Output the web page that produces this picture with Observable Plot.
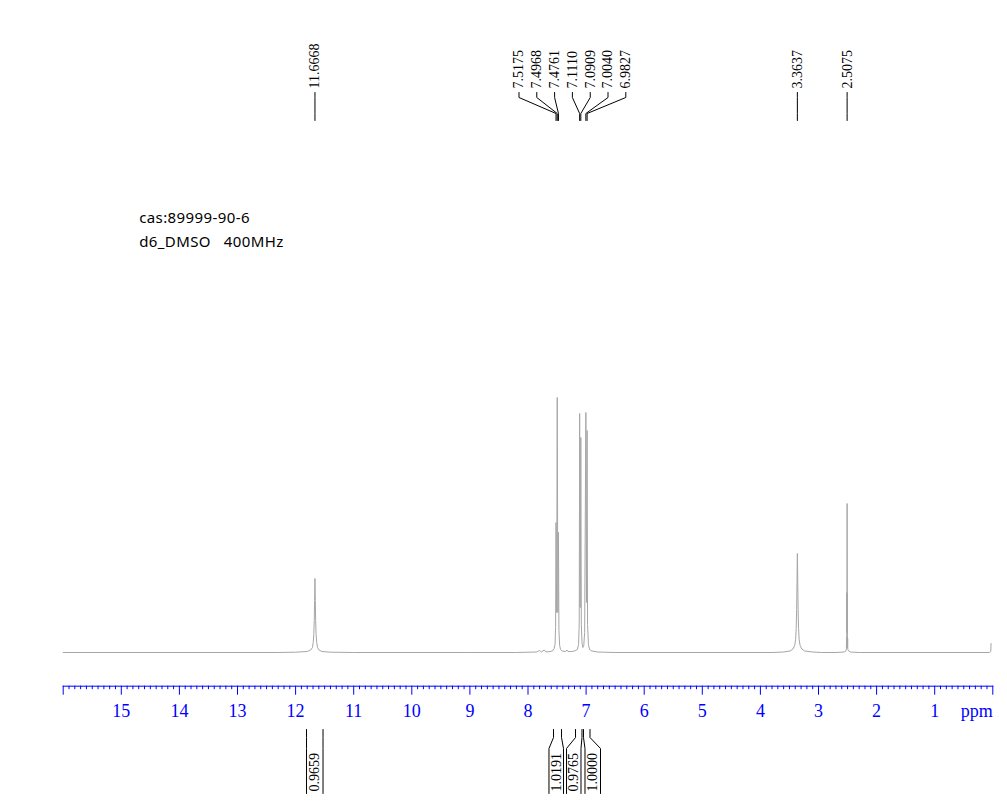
<!DOCTYPE html>
<html>
<head>
<meta charset="utf-8">
<script src="https://cdn.jsdelivr.net/npm/d3@7"></script>
<script src="https://cdn.jsdelivr.net/npm/@observablehq/plot@0.6"></script>
<style>
  html, body { margin: 0; padding: 0; background: #ffffff; }
  #chart svg text { white-space: pre; }
</style>
</head>
<body>
<div id="chart"></div>
<script>
// ---------- data ----------
// 1H NMR spectrum trace (chemical shift in ppm, intensity in arbitrary units)
const specPpm = [16.0, 12.3, 12.0, 11.8, 11.74, 11.71, 11.697, 11.687, 11.679, 11.673, 11.6668, 11.661, 11.655, 11.647, 11.637, 11.622, 11.597, 11.547, 11.4, 11.0,
  9.0, 8.2, 7.85, 7.80, 7.77, 7.72, 7.69, 7.62,
  7.58, 7.55, 7.535, 7.525, 7.5175, 7.507, 7.4968, 7.486, 7.4761, 7.468, 7.455, 7.44, 7.41,
  7.35, 7.33, 7.31, 7.25, 7.20, 7.15, 7.13, 7.118,
  7.111, 7.101, 7.0909, 7.082, 7.07, 7.055, 7.04, 7.025, 7.004, 6.993, 6.9827, 6.975, 6.96, 6.94, 6.90, 6.80, 6.5,
  3.8, 3.6, 3.49, 3.44, 3.41, 3.394, 3.384, 3.376, 3.37, 3.3637, 3.357, 3.351, 3.343, 3.333, 3.317, 3.287, 3.237, 3.1, 2.95,
  2.7, 2.56, 2.53, 2.52, 2.5165, 2.514, 2.512, 2.51, 2.5075, 2.505, 2.503, 2.501, 2.4985, 2.495, 2.48, 2.45, 2.3,
  0.06, 0.035, 0.03];
const specInt = [0, 0, 0.3, 1, 2.5, 5, 10, 18, 32, 52, 74, 52, 32, 18, 10, 5, 2.5, 1, 0.3, 0,
  0, 0, 0.5, 2, 0.5, 2.5, 0.5, 1,
  1.5, 4, 8, 25, 130, 40, 255, 40, 120, 22, 7, 3, 1.5,
  1, 2.5, 1, 1, 1.5, 3, 8, 30,
  239, 45, 215, 28, 9, 5, 7, 20, 240, 50, 222, 28, 8, 3, 1.5, 0.5, 0,
  0, 0.5, 1.5, 3.5, 7, 13, 24, 43, 70, 99, 70, 43, 24, 13, 7, 3.5, 1.5, 0.5, 0,
  0, 0.5, 1.5, 3, 15, 5, 60, 20, 149, 20, 58, 5, 14, 3, 1.5, 0.5, 0,
  0, 1, 9];

// peak picking labels
const peakPpm   = [11.6668, 7.5175, 7.4968, 7.4761, 7.1110, 7.0909, 7.0040, 6.9827, 3.3637, 2.5075];
const peakLabel = ["11.6668", "7.5175", "7.4968", "7.4761", "7.1110", "7.0909", "7.0040", "6.9827", "3.3637", "2.5075"];
const labelPpm  = [11.6668, 8.155, 7.849, 7.542, 7.236, 6.929, 6.623, 6.317, 3.3637, 2.5075];

// integrals
const intLabel    = ["0.9659", "1.0191", "0.9765", "1.0000"];
const intTopFrom  = [11.812, 7.561, 7.182, 7.045];
const intTopTo    = [11.528, 7.423, 7.071, 6.933];
const intBotFrom  = [11.812, 7.639, 7.337, 7.019];
const intBotTo    = [11.528, 7.389, 7.088, 6.752];
const intTextPpm  = [11.666, 7.513, 7.217, 6.890];

// axis ticks
const majorTicks = [16, 15, 14, 13, 12, 11, 10, 9, 8, 7, 6, 5, 4, 3, 2, 1, 0];
const tickLabels = ["", "15", "14", "13", "12", "11", "10", "9", "8", "7", "6", "5", "4", "3", "2", "1", ""];
const axisUnit = "ppm";
const infoLines = ["cas:89999-90-6", "d6_DMSO   400MHz"];

// ---------- layout levels (in intensity units of the y scale) ----------
const LBL_TEXT = 564, CON_TOP = 560, CON_B1 = 555, CON_B2 = 539, CON_BOT = 532;
const INT_TOP = -77, INT_B1 = -85, INT_B2 = -96, INT_BOT = -141, INT_TEXT = -139;

const minorTicks = d3.range(0, 161).map(i => i / 10).filter(v => !majorTicks.includes(v));

const specIdx = d3.range(specPpm.length);
const peakIdx = d3.range(peakPpm.length);
const intIdx = d3.range(intLabel.length);

const connectors = peakIdx.flatMap(i => [
  {x: labelPpm[i], y: CON_TOP, k: i},
  {x: labelPpm[i], y: CON_B1, k: i},
  {x: peakPpm[i], y: CON_B2, k: i},
  {x: peakPpm[i], y: CON_BOT, k: i}
]);

const brackets = intIdx.flatMap(i => [
  {x: intTopFrom[i], y: INT_TOP, k: "L" + i},
  {x: intTopFrom[i], y: INT_B1, k: "L" + i},
  {x: intBotFrom[i], y: INT_B2, k: "L" + i},
  {x: intBotFrom[i], y: INT_BOT, k: "L" + i},
  {x: intTopTo[i], y: INT_TOP, k: "R" + i},
  {x: intTopTo[i], y: INT_B1, k: "R" + i},
  {x: intBotTo[i], y: INT_B2, k: "R" + i},
  {x: intBotTo[i], y: INT_BOT, k: "R" + i}
]);

const serif = "'Liberation Serif', 'Times New Roman', serif";

const chart = Plot.plot({
  width: 1007,
  height: 803,
  marginLeft: 62.7,
  marginRight: 14.7,
  marginTop: 0,
  marginBottom: 117.3,
  style: {background: "#ffffff", overflow: "visible"},
  x: {domain: [16, 0], axis: null},
  y: {domain: [0, 256], range: [652, 396], axis: null},
  marks: [
    // spectrum
    Plot.line(specIdx, {x: i => specPpm[i], y: i => specInt[i], stroke: "#a6a6a6", strokeWidth: 1}),
    // axis
    Plot.frame({anchor: "bottom", stroke: "#0000ff"}),
    Plot.axisX({ticks: minorTicks, anchor: "bottom", label: null, tickSize: 3.5, tickFormat: () => "", color: "#0000ff"}),
    Plot.axisX({ticks: majorTicks, anchor: "bottom", label: null, tickSize: 9, tickPadding: 9.5,
      tickFormat: d => tickLabels[majorTicks.indexOf(d)], color: "#0000ff",
      fontSize: 18, fontFamily: serif}),
    Plot.text([axisUnit], {frameAnchor: "bottom-right", textAnchor: "end", lineAnchor: "top",
      dy: 18.5, fontSize: 18, fontFamily: serif, fill: "#0000ff"}),
    // peak labels
    Plot.line(connectors, {x: "x", y: "y", z: "k", stroke: "#000000", strokeWidth: 1}),
    Plot.text(peakIdx, {x: i => labelPpm[i], y: () => LBL_TEXT, text: i => peakLabel[i], rotate: -90,
      textAnchor: "start", lineAnchor: "middle", fontSize: 14, fontFamily: serif, fill: "#000000"}),
    // integrals
    Plot.line(brackets, {x: "x", y: "y", z: "k", stroke: "#000000", strokeWidth: 1}),
    Plot.text(intIdx, {x: i => intTextPpm[i], y: () => INT_TEXT, text: i => intLabel[i], rotate: -90,
      textAnchor: "start", lineAnchor: "middle", fontSize: 14, fontFamily: serif, fill: "#000000"}),
    // sample info
    Plot.text([infoLines.join("\n")], {frameAnchor: "top-left", dx: 76, dy: 205, lineAnchor: "top",
      textAnchor: "start", lineHeight: 1.62, fontSize: 15, fontFamily: "'Noto Sans', sans-serif", fill: "#000000"})
  ]
});

// slightly widen letter spacing of the sample info block
d3.select(chart).selectAll("text").filter(function () { return this.textContent.includes("MHz"); })
  .style("letter-spacing", "0.4px");

document.getElementById("chart").appendChild(chart);
</script>
</body>
</html>
